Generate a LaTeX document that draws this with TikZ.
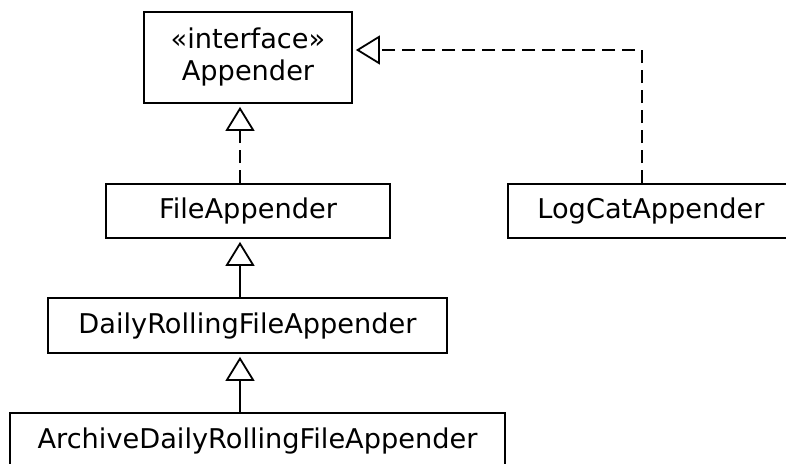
\documentclass[tikz,border=0pt]{standalone}
\usepackage{fontspec}
\setmainfont{DejaVu Sans}
\usetikzlibrary{arrows.meta,calc}
\begin{document}
\begin{tikzpicture}[x=1pt,y=1pt,
  line width=1.8pt,
  cls/.style={draw, inner sep=0pt, align=center,
    font=\fontsize{27.2}{32}\selectfont},
  realize/.style={-{Triangle[open,length=24pt,width=29pt]}, line width=1.8pt},
  dashline/.style={dash pattern=on 13pt off 7pt}]
\useasboundingbox (0,0) rectangle (786,463);
\clip (0,0) rectangle (786,463);

% classes
\node[cls, minimum width=208pt, minimum height=91pt] (app) at (248,405.5)
  {«interface»\\Appender};
\node[cls, minimum width=284pt, minimum height=54pt] (file) at (248,252) {FileAppender};
\node[cls, minimum width=286pt, minimum height=54pt] (logcat) at (651,252) {LogCatAppender};
\node[cls, minimum width=399pt, minimum height=55pt] (daily) at (247.5,137.5) {DailyRollingFileAppender};
\node[cls, minimum width=495pt, minimum height=55pt] (archive) at (257.5,22.5) {ArchiveDailyRollingFileAppender};

% anchor helpers for the connectors
\coordinate (ax) at (240,0);
\coordinate (lx) at (642,0);
\coordinate (ly) at (0,413);
\coordinate (apptip) at ($(app.east |- ly)+(3,0)$);

% realization and generalization links
\draw[realize, dashline] (file.north -| ax) -- ($(app.south -| ax)+(0,-3)$);
\draw[realize, dashline] (logcat.north -| lx) |- (apptip);
\draw[realize] (daily.north -| ax) -- ($(file.south -| ax)+(0,-3)$);
\draw[realize] (archive.north -| ax) -- ($(daily.south -| ax)+(0,-3)$);
\end{tikzpicture}
\end{document}
